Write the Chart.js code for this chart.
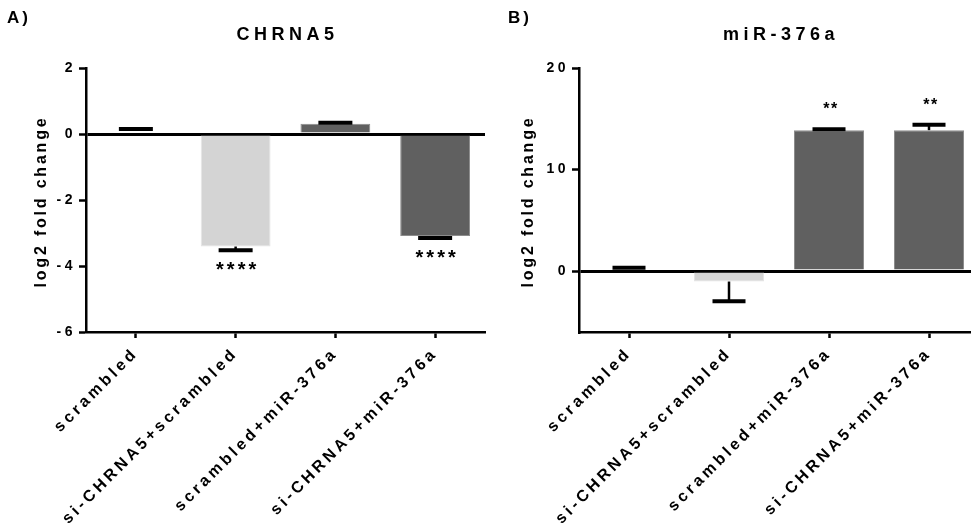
<!DOCTYPE html>
<html>
<head>
<meta charset="utf-8">
<script src="https://cdn.jsdelivr.net/npm/chart.js@4.4.0/dist/chart.umd.min.js"></script>
<style>
  html, body { margin: 0; padding: 0; background: #fff; overflow: hidden; width: 971px; height: 527px; }
  #chartA { position: absolute; left: 0; top: 0; }
  #chartB { position: absolute; left: 490px; top: 0; }
</style>
</head>
<body>
<canvas id="chartA" width="490" height="527"></canvas>
<canvas id="chartB" width="490" height="527"></canvas>
<script>
const categories = ['scrambled', 'si-CHRNA5+scrambled', 'scrambled+miR-376a', 'si-CHRNA5+miR-376a'];

const chrna5Values = [0.10, -3.41, 0.31, -3.09];
const chrna5Errors = [0.05, 0.11, 0.03, 0.06];
const chrna5Stars = ['', '****', '', '****'];
const chrna5Ticks = [-6, -4, -2, 0, 2];

const mirValues = [0.28, -1.03, 13.86, 13.88];
const mirErrors = [0.05, 1.95, 0.10, 0.52];
const mirStars = ['', '', '**', '**'];
const mirTicks = [0, 10, 20];

const barColors = ['rgba(0,0,0,0)', '#d4d4d4', '#606060', '#606060'];
const barBorders = ['rgba(0,0,0,0)', '#e4e4e4', '#8c8c8c', '#8c8c8c'];
const FONT = '"Liberation Sans", Arial, sans-serif';

// canvas letterSpacing gets reset when the canvas is resized, so set it before layout and draw
const spacing = {
    id: 'spacing',
    beforeLayout(chart) { chart.ctx.letterSpacing = '3.5px'; },
    beforeDraw(chart) { chart.ctx.letterSpacing = '3.5px'; }
};

const errorBars = {
    id: 'errorBars',
    afterDatasetsDraw(chart, args, opts) {
        const { ctx } = chart;
        const y = chart.scales.y;
        const values = chart.data.datasets[0].data;
        ctx.save();
        ctx.strokeStyle = '#000';
        ctx.fillStyle = '#000';
        chart.getDatasetMeta(0).data.forEach((bar, i) => {
            const v = values[i];
            const y0 = y.getPixelForValue(v);
            const y1 = y.getPixelForValue(v + Math.sign(v) * opts.errors[i]);
            ctx.lineWidth = 2.5;
            ctx.beginPath(); ctx.moveTo(bar.x, y0); ctx.lineTo(bar.x, y1); ctx.stroke();
            ctx.lineWidth = 4;
            ctx.beginPath(); ctx.moveTo(bar.x - opts.capWidth / 2, y1); ctx.lineTo(bar.x + opts.capWidth / 2, y1); ctx.stroke();
            if (opts.stars[i]) {
                ctx.font = opts.starFont;
                ctx.letterSpacing = opts.starSpacing;
                ctx.textAlign = 'center';
                ctx.textBaseline = 'alphabetic';
                const ty = v < 0 ? y1 + opts.below : y1 - opts.above;
                ctx.fillText(opts.stars[i], bar.x + 2, ty);
            }
        });
        ctx.restore();
    }
};

const labels = {
    id: 'labels',
    afterDraw(chart, args, opts) {
        const { ctx, chartArea } = chart;
        ctx.save();
        ctx.fillStyle = '#000';
        ctx.textBaseline = 'alphabetic';

        ctx.letterSpacing = '3px';
        ctx.font = 'bold 17px ' + FONT;
        ctx.textAlign = 'left';
        ctx.fillText(opts.panel, opts.panelX, 23);

        ctx.letterSpacing = '4.5px';
        ctx.font = 'bold 18px ' + FONT;
        ctx.textAlign = 'center';
        ctx.fillText(opts.title, (chartArea.left + chartArea.right) / 2 + 2, 40);

        ctx.letterSpacing = '2.8px';
        ctx.font = 'bold 16px ' + FONT;
        ctx.translate(opts.yTitleX, (chartArea.top + chartArea.bottom) / 2);
        ctx.rotate(-Math.PI / 2);
        ctx.fillText('log2 fold change', -1.5, 0);
        ctx.restore();
    }
};

function makeChart(id, values, errors, stars, ticks, min, max, opts) {
    return new Chart(document.getElementById(id), {
        type: 'bar',
        data: {
            labels: categories,
            datasets: [{
                data: values,
                backgroundColor: barColors,
                borderColor: barBorders,
                borderWidth: 1,
                barPercentage: 0.7,
                categoryPercentage: 1
            }]
        },
        options: {
            responsive: false,
            animation: false,
            layout: { padding: { top: 68, right: opts.padRight, left: 0, bottom: 0 } },
            plugins: {
                legend: { display: false },
                tooltip: { enabled: false },
                errorBars: { errors, stars, capWidth: opts.capWidth, starFont: opts.starFont,
                             starSpacing: opts.starSpacing, below: 26, above: 15 },
                labels: { panel: opts.panel, panelX: opts.panelX, title: opts.title, yTitleX: opts.yTitleX }
            },
            scales: {
                x: {
                    offset: true,
                    grid: { offset: false, drawOnChartArea: false, tickLength: 6, tickColor: '#000', tickWidth: 2.5 },
                    border: { color: '#000', width: 2.5 },
                    ticks: { minRotation: 45, maxRotation: 45, autoSkip: false, padding: 6, color: '#000',
                             font: { family: FONT, size: 16, weight: 'bold' } },
                    afterFit(s) { s.height = 195; }
                },
                y: {
                    min, max,
                    afterBuildTicks(s) { s.ticks = ticks.map(v => ({ value: v })); },
                    grid: {
                        color: c => (c.tick && c.tick.value === 0) ? '#000' : 'rgba(0,0,0,0)',
                        lineWidth: c => (c.tick && c.tick.value === 0) ? 3 : 1,
                        tickColor: '#000', tickWidth: 2.5, tickLength: 7
                    },
                    border: { color: '#000', width: 2.5 },
                    ticks: { padding: 3, color: '#000', font: { family: FONT, size: 14, weight: 'bold' } },
                    afterFit(s) { s.width = opts.yWidth; }
                }
            }
        },
        plugins: [spacing, errorBars, labels]
    });
}

makeChart('chartA', chrna5Values, chrna5Errors, chrna5Stars, chrna5Ticks, -6, 2, {
    panel: 'A)', panelX: 7, title: 'CHRNA5', yTitleX: 46, yWidth: 86, padRight: 5,
    capWidth: 34, starFont: 'bold 20px ' + FONT, starSpacing: '3px'
});
makeChart('chartB', mirValues, mirErrors, mirStars, mirTicks, -6, 20, {
    panel: 'B)', panelX: 18, title: 'miR-376a', yTitleX: 43, yWidth: 89, padRight: 1,
    capWidth: 33, starFont: 'bold 16px ' + FONT, starSpacing: '1.5px'
});
</script>
</body>
</html>
